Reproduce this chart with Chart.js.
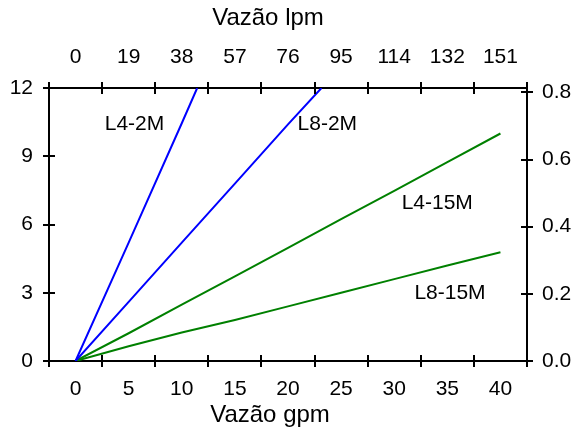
<!DOCTYPE html>
<html><head><meta charset="utf-8">
<script src="https://cdn.jsdelivr.net/npm/chart.js@4.4.1/dist/chart.umd.min.js"></script>
<style>html,body{margin:0;padding:0;background:#fff}#wrap{width:574px;height:432px;position:relative}</style>
</head><body><div id="wrap"><canvas id="c"></canvas></div>
<script>
// ---- data ----
const gpmTicks = [0, 5, 10, 15, 20, 25, 30, 35, 40];
const lpmLabels = ['0', '19', '38', '57', '76', '95', '114', '132', '151'];
const psiTicks = [0, 3, 6, 9, 12];
const barTicks = [0, 0.2, 0.4, 0.6, 0.8];

const l4_2m_x = [0, 5, 10, 11.45];
const l4_2m_y = [0, 5.2, 10.45, 12];
const l8_2m_x = [0, 5, 10, 15, 20, 23.15];
const l8_2m_y = [0, 2.6, 5.2, 7.8, 10.4, 12];
const l4_15m_x = [0, 5, 10, 15, 20, 25, 30, 35, 40];
const l4_15m_y = [0, 1.22, 2.48, 3.72, 4.97, 6.24, 7.48, 8.74, 10.0];
const l8_15m_x = [0, 5, 10, 15, 20, 25, 30, 35, 40];
const l8_15m_y = [0, 0.65, 1.25, 1.8, 2.4, 3.0, 3.6, 4.2, 4.78];

const curveNames = ['L4-2M', 'L8-2M', 'L4-15M', 'L8-15M'];
const curveLabelX = [5.55, 23.7, 34.05, 35.25];
const curveLabelY = [10.4, 10.4, 6.95, 3.0];

// ---- chart ----
Chart.defaults.font.family = "'Liberation Sans', Arial, Helvetica, sans-serif";
Chart.defaults.color = '#000';

const pts = (xs, ys) => xs.map((x, i) => ({x: x, y: ys[i]}));
const BLUE = '#0000ff', GREEN = '#008000';

const innerTicks = {
  id: 'innerTicks',
  afterDraw(chart) {
    const ctx = chart.ctx, a = chart.chartArea;
    ctx.save();
    ctx.strokeStyle = '#000';
    ctx.lineWidth = 2;
    for (const s of Object.values(chart.scales)) {
      const items = s._gridLineItems || s._computeGridLineItems(a);
      const len = s.options.grid.tickLength;
      ctx.beginPath();
      for (const it of items) {
        if (s.position === 'bottom') { ctx.moveTo(it.tx1, a.bottom); ctx.lineTo(it.tx1, a.bottom - len); }
        else if (s.position === 'top') { ctx.moveTo(it.tx1, a.top); ctx.lineTo(it.tx1, a.top + len); }
        else if (s.position === 'left') { ctx.moveTo(a.left, it.ty1); ctx.lineTo(a.left + len, it.ty1); }
        else if (s.position === 'right') { ctx.moveTo(a.right, it.ty1); ctx.lineTo(a.right - len, it.ty1); }
      }
      ctx.stroke();
    }
    ctx.restore();
  }
};

const curveLabels = {
  id: 'curveLabels',
  afterDatasetsDraw(chart) {
    const ctx = chart.ctx, xs = chart.scales.x, ys = chart.scales.y;
    ctx.save();
    ctx.font = "21px 'Liberation Sans', Arial, sans-serif";
    ctx.fillStyle = '#000';
    ctx.textAlign = 'center';
    ctx.textBaseline = 'middle';
    curveNames.forEach((t, i) => {
      ctx.fillText(t, xs.getPixelForValue(curveLabelX[i]), ys.getPixelForValue(curveLabelY[i]));
    });
    ctx.restore();
  }
};

const TITLE_SHIFT = {x: -18, x2: -20};
const titleShift = {
  id: 'titleShift',
  beforeDraw(chart) {
    for (const id of Object.keys(TITLE_SHIFT)) {
      const s = chart.scales[id];
      if (!s || s._shifted) continue;
      const orig = s.drawTitle;
      const dx = TITLE_SHIFT[id];
      s.drawTitle = function () {
        this.ctx.save(); this.ctx.translate(dx, 0); orig.call(this); this.ctx.restore();
      };
      s._shifted = true;
    }
  }
};

const gridOpts = (offset) => ({
  offset: offset, drawOnChartArea: false, tickLength: 6, tickWidth: 2,
  tickColor: '#000', color: '#000', lineWidth: 2
});
const borderOpts = {display: true, color: '#000', width: 2};

new Chart(document.getElementById('c'), {
  type: 'line',
  data: {
    datasets: [
      {label: 'L4-2M', data: pts(l4_2m_x, l4_2m_y), borderColor: BLUE},
      {label: 'L8-2M', data: pts(l8_2m_x, l8_2m_y), borderColor: BLUE},
      {label: 'L4-15M', data: pts(l4_15m_x, l4_15m_y), borderColor: GREEN},
      {label: 'L8-15M', data: pts(l8_15m_x, l8_15m_y), borderColor: GREEN}
    ].map(d => Object.assign(d, {borderWidth: 2, pointRadius: 0, tension: 0, fill: false, xAxisID: 'x', yAxisID: 'y'}))
  },
  options: {
    responsive: true,
    maintainAspectRatio: false,
    animation: false,
    layout: {padding: 0},
    plugins: {legend: {display: false}, tooltip: {enabled: false}},
    scales: {
      x: {
        type: 'linear', position: 'bottom', min: -2.5, max: 42.5,
        afterBuildTicks: s => { s.ticks = gpmTicks.map(v => ({value: v})); },
        afterFit: s => { s.height = 71; },
        grid: gridOpts(true), border: borderOpts,
        ticks: {font: {size: 21}, padding: 10, autoSkip: false, maxRotation: 0, callback: v => String(v)},
        title: {display: true, text: 'Vazão gpm', font: {size: 24}, padding: {top: 0, bottom: 2}}
      },
      x2: {
        type: 'linear', position: 'top', min: -2.5, max: 42.5,
        afterBuildTicks: s => { s.ticks = gpmTicks.map(v => ({value: v})); },
        afterFit: s => { s.height = 88; },
        grid: gridOpts(true), border: borderOpts,
        ticks: {font: {size: 21}, padding: 12, autoSkip: false, maxRotation: 0, callback: (v, i) => lpmLabels[i]},
        title: {display: true, text: 'Vazão lpm', font: {size: 24}, padding: {top: 4, bottom: 0}}
      },
      y: {
        type: 'linear', position: 'left', min: 0, max: 12,
        afterBuildTicks: s => { s.ticks = psiTicks.map(v => ({value: v})); },
        afterFit: s => { s.width = 49; },
        grid: gridOpts(false), border: borderOpts,
        ticks: {font: {size: 21}, padding: 10, callback: v => String(v)}
      },
      y2: {
        type: 'linear', position: 'right', min: 0, max: 0.813,
        afterBuildTicks: s => { s.ticks = barTicks.map(v => ({value: v})); },
        afterFit: s => { s.width = 47; },
        grid: gridOpts(false), border: borderOpts,
        ticks: {font: {size: 21}, padding: 9, callback: v => Number(v).toFixed(1)}
      }
    }
  },
  plugins: [innerTicks, curveLabels, titleShift]
});
</script>
</body></html>
